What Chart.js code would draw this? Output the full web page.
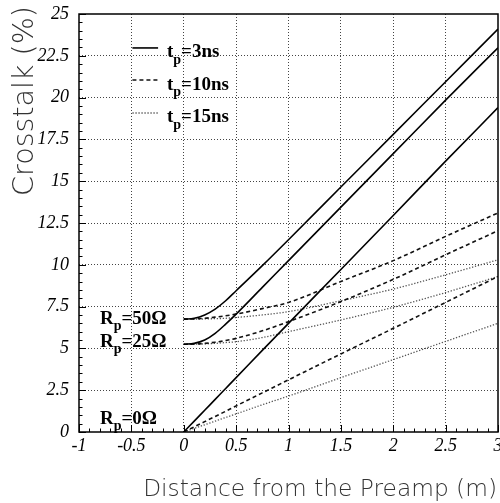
<!DOCTYPE html>
<html>
<head>
<meta charset="utf-8">
<script src="https://cdn.jsdelivr.net/npm/chart.js@4.4.1/dist/chart.umd.min.js"></script>
<style>
html, body { margin: 0; padding: 0; background: #fff; }
</style>
</head>
<body>
<canvas id="c" width="500" height="503"></canvas>
<script>
// distance from the preamp (m)
const xVals = [0, 0.1, 0.2, 0.3, 0.4, 0.5, 0.75, 1, 1.5, 2, 2.5, 3]

// crosstalk (%) for tp = 3ns
const r50_3ns = [6.75, 6.8, 7.0, 7.35, 7.85, 8.45, 9.95, 11.5, 14.65, 17.8, 20.95, 24.1]
const r25_3ns = [5.25, 5.3, 5.5, 5.9, 6.45, 7.05, 8.65, 10.25, 13.45, 16.65, 19.85, 22.98]
const r0_3ns = [0, 0.65, 1.3, 1.95, 2.6, 3.25, 4.88, 6.5, 9.72, 12.95, 16.2, 19.4]
// tp = 10ns
const r50_10ns = [6.75, 6.76, 6.8, 6.87, 6.95, 7.05, 7.38, 7.75, 9.0, 10.25, 11.7, 13.1]
const r25_10ns = [5.25, 5.26, 5.3, 5.37, 5.47, 5.6, 6.05, 6.6, 7.8, 9.13, 10.6, 12.04]
const r0_10ns = [0, 0.31, 0.62, 0.93, 1.24, 1.56, 2.34, 3.12, 4.67, 6.2, 7.75, 9.3]
// tp = 15ns
const r50_15ns = [6.75, 6.75, 6.76, 6.78, 6.8, 6.85, 7.0, 7.2, 7.85, 8.55, 9.4, 10.3]
const r25_15ns = [5.25, 5.25, 5.27, 5.3, 5.35, 5.4, 5.65, 6.0, 6.7, 7.46, 8.34, 9.3]
const r0_15ns = [0, 0.22, 0.43, 0.65, 0.87, 1.08, 1.63, 2.15, 3.25, 4.33, 5.42, 6.5]

const tpLabels = ["3ns", "10ns", "15ns"]
const rpLabels = ["50\u03A9", "25\u03A9", "0\u03A9"]

const xTitle = "Distance from the Preamp (m)"
const yTitle = "Crosstalk (%)"

const styles = [
	{ borderColor: "#000", borderWidth: 1.6, borderDash: [] },
	{ borderColor: "#111", borderWidth: 1.6, borderDash: [4, 3] },
	{ borderColor: "#555", borderWidth: 1.3, borderDash: [1.3, 1.7] }
]

function toPoints(ys) {
	return xVals.map((x, i) => ({ x, y: ys[i] }))
}

function makeSet(label, ys, style) {
	return {
		label,
		data: toPoints(ys),
		showLine: true,
		pointRadius: 0,
		fill: false,
		cubicInterpolationMode: "monotone",
		borderColor: style.borderColor,
		borderWidth: style.borderWidth,
		borderDash: style.borderDash
	}
}

const datasets = [
	makeSet("R50 3ns", r50_3ns, styles[0]),
	makeSet("R25 3ns", r25_3ns, styles[0]),
	makeSet("R0 3ns", r0_3ns, styles[0]),
	makeSet("R50 10ns", r50_10ns, styles[1]),
	makeSet("R25 10ns", r25_10ns, styles[1]),
	makeSet("R0 10ns", r0_10ns, styles[1]),
	makeSet("R50 15ns", r50_15ns, styles[2]),
	makeSet("R25 15ns", r25_15ns, styles[2]),
	makeSet("R0 15ns", r0_15ns, styles[2])
]

const serif = '"Liberation Serif", "Times New Roman", serif'
const sans = '"DejaVu Sans ExtraLight", "DejaVu Sans", sans-serif'

function subText(ctx, x, y, main, sub, rest, size) {
	ctx.font = `bold ${size}px ${serif}`
	ctx.fillText(main, x, y)
	x += ctx.measureText(main).width
	ctx.font = `bold ${Math.round(size * 0.72)}px ${serif}`
	ctx.fillText(sub, x, y + size * 0.32)
	x += ctx.measureText(sub).width
	ctx.font = `bold ${size}px ${serif}`
	ctx.fillText(rest, x, y)
}

function fitFont(ctx, text, width, weight) {
	ctx.font = `${weight} 20px ${sans}`
	let w = ctx.measureText(text).width
	return 20 * width / w
}

const decor = {
	id: "decor",
	afterDatasetsDraw(chart) {
		const { ctx, chartArea: a, scales } = chart
		const xs = scales.x, ys = scales.y
		ctx.save()

		// frame
		ctx.strokeStyle = "#000"
		ctx.lineWidth = 1.5
		ctx.strokeRect(a.left, a.top, a.right - a.left, a.bottom - a.top)

		// inward ticks
		ctx.lineWidth = 1
		ctx.beginPath()
		for (let i = 0; i <= 40; i++) {
			let v = -1 + i * 0.1
			let px = Math.round(xs.getPixelForValue(v)) + 0.5
			let len = i % 5 === 0 ? 7 : 3.5
			ctx.moveTo(px, a.bottom)
			ctx.lineTo(px, a.bottom - len)
		}
		for (let i = 0; i <= 50; i++) {
			let v = i * 0.5
			let py = Math.round(ys.getPixelForValue(v)) + 0.5
			let len = i % 5 === 0 ? 7 : 3.5
			ctx.moveTo(a.left, py)
			ctx.lineTo(a.left + len, py)
		}
		ctx.stroke()

		// legend
		ctx.fillStyle = "#000"
		ctx.textBaseline = "alphabetic"
		ctx.textAlign = "left"
		const legY = [22.97, 21.05, 19.08]
		for (let i = 0; i < 3; i++) {
			let py = ys.getPixelForValue(legY[i])
			ctx.beginPath()
			ctx.strokeStyle = styles[i].borderColor
			ctx.lineWidth = styles[i].borderWidth
			ctx.setLineDash(styles[i].borderDash)
			ctx.moveTo(xs.getPixelForValue(-0.49), py)
			ctx.lineTo(xs.getPixelForValue(-0.245), py)
			ctx.stroke()
			ctx.setLineDash([])
			subText(ctx, xs.getPixelForValue(-0.16), py + 9.5, "t", "p", "=" + tpLabels[i], 19)
		}

		// Rp labels
		const rpY = [6.46, 5.08, 0.48]
		for (let i = 0; i < 3; i++) {
			subText(ctx, xs.getPixelForValue(-0.8), ys.getPixelForValue(rpY[i]), "R", "p", "=" + rpLabels[i], 19)
		}

		// axis titles
		ctx.fillStyle = "#333"
		let fx = fitFont(ctx, xTitle, 354, 200)
		ctx.font = `200 ${fx}px ${sans}`
		ctx.textAlign = "right"
		ctx.textBaseline = "alphabetic"
		ctx.fillText(xTitle, 497, 496)

		let fy = fitFont(ctx, yTitle, 190, 200)
		ctx.font = `200 ${fy}px ${sans}`
		ctx.translate(33, 6)
		ctx.rotate(-Math.PI / 2)
		ctx.textAlign = "right"
		ctx.fillText(yTitle, 0, 0)
		ctx.restore()
	}
}

const gridColor = (edge) => (c) => {
	let v = c.tick ? c.tick.value : null
	return edge.includes(v) ? "rgba(0,0,0,0)" : "#444"
}

new Chart(document.getElementById("c"), {
	type: "scatter",
	data: { datasets },
	options: {
		responsive: false,
		animation: false,
		devicePixelRatio: 1,
		layout: { padding: { top: 14, right: 2, left: 0, bottom: 0 } },
		plugins: { legend: { display: false }, tooltip: { enabled: false } },
		scales: {
			x: {
				type: "linear",
				min: -1,
				max: 3,
				afterFit(s) { s.height = 71; s.paddingLeft = 0; s.paddingRight = 0 },
				ticks: {
					stepSize: 0.5,
					padding: 3,
					maxRotation: 0,
					autoSkip: false,
					color: "#000",
					font: { family: serif, style: "italic", size: 18 },
					callback: v => String(+v.toFixed(2))
				},
				grid: { color: gridColor([-1, 3]), lineWidth: 1, drawTicks: false },
				border: { display: false, dash: [1, 2] }
			},
			y: {
				type: "linear",
				min: 0,
				max: 25,
				afterFit(s) { s.width = 79; s.paddingTop = 0; s.paddingBottom = 0 },
				ticks: {
					stepSize: 2.5,
					padding: 10,
					autoSkip: false,
					color: "#000",
					font: { family: serif, style: "italic", size: 18 },
					callback: v => String(+v.toFixed(2))
				},
				grid: { color: gridColor([0, 25]), lineWidth: 1, drawTicks: false },
				border: { display: false, dash: [1, 2] }
			}
		}
	},
	plugins: [decor]
})
</script>
</body>
</html>
